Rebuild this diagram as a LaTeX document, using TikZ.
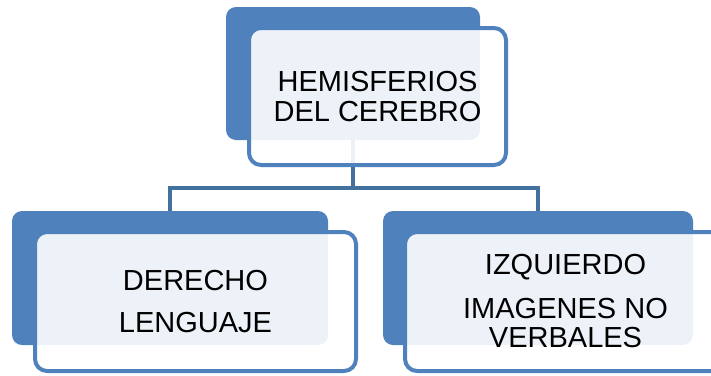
\documentclass[tikz,border=0pt]{standalone}
\usepackage{fontspec}
\setmainfont{Liberation Sans}
\definecolor{accent}{HTML}{4F81BD}
\definecolor{linkc}{HTML}{41719C}
\tikzset{
  backbox/.style={draw=none, fill=accent, rounded corners=10pt, inner sep=0pt},
  frontbox/.style={draw=accent, line width=4pt, fill=white, fill opacity=0.9, text opacity=1,
     rounded corners=12pt, inner sep=0pt, align=center, font=\fontsize{29}{29.5}\selectfont},
  conn/.style={draw=linkc, line width=4.5pt}
}
\begin{document}
\begin{tikzpicture}[x=1pt,y=-1pt]
\useasboundingbox (0,0) rectangle (711,375);
\clip (0,0) rectangle (711,375);
% back boxes
\node[backbox, minimum width=254pt, minimum height=133pt] (tb) at (353,73.5) {};
\node[backbox, minimum width=316pt, minimum height=134pt] (lb) at (170,278) {};
\node[backbox, minimum width=310pt, minimum height=134pt] (rb) at (538,278) {};
% connectors
\coordinate (hub) at (353,188);
\draw[conn] (tb.south) -- (hub) -| (lb.north);
\draw[conn] (hub) -| (rb.north);
% front boxes
\node[frontbox, minimum width=257pt, minimum height=137pt] (tf) at (377.5,96.5) {HEMISFERIOS\\DEL CEREBRO};
\node[frontbox, minimum width=321pt, minimum height=139pt] (lf) at (195.5,301.5) {DERECHO\\[12pt]LENGUAJE};
\node[frontbox, minimum width=321pt, minimum height=139pt] (rf) at (565.5,301.5) {IZQUIERDO\\[14pt]IMAGENES NO\\VERBALES};
\end{tikzpicture}
\end{document}
